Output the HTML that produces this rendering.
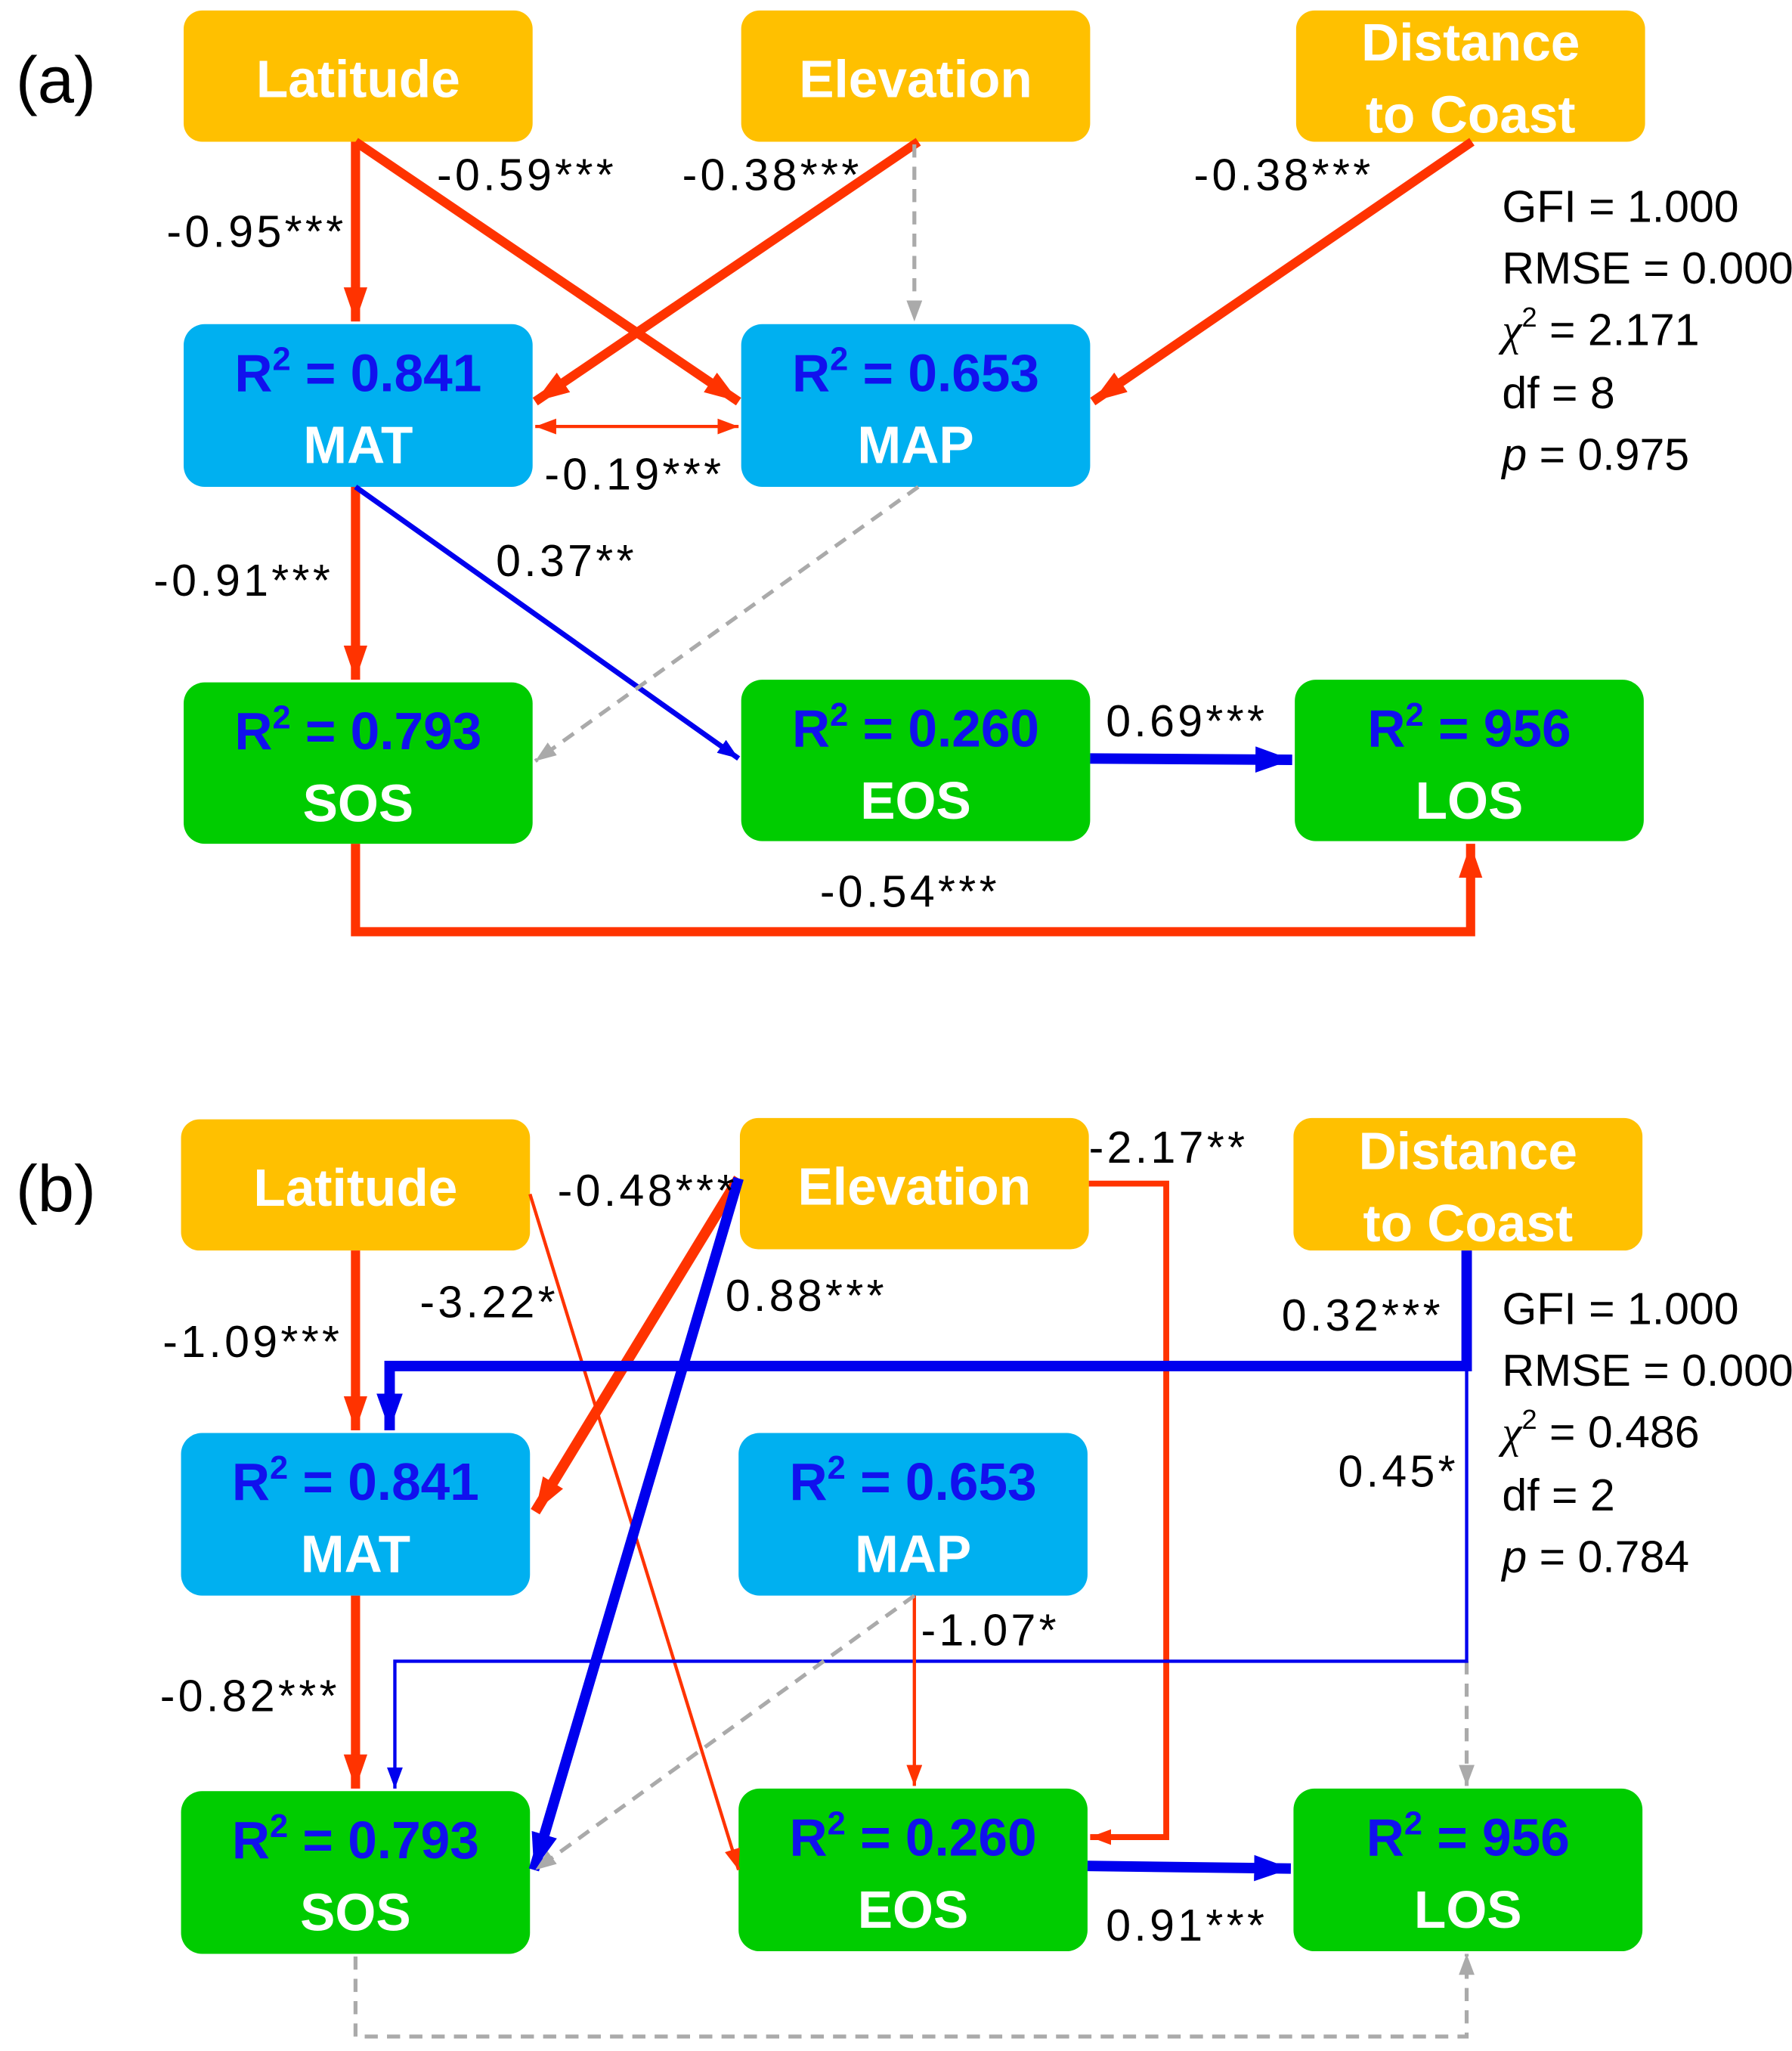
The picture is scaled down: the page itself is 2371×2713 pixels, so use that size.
<!DOCTYPE html>
<html><head><meta charset="utf-8"><style>
html,body{margin:0;padding:0;background:#fff;}
svg{display:block;}
text{font-family:"Liberation Sans",sans-serif;}
.bt{font-weight:bold;font-size:40px;fill:#fff;text-anchor:middle;}
.r2{font-weight:bold;font-size:40px;fill:#1111EE;text-anchor:middle;}
.lb{font-size:34px;fill:#000;letter-spacing:2.5px;}
.st{font-size:34px;fill:#000;}
</style></head><body>
<svg width="2371" height="2713" viewBox="0 0 1366 1563" xmlns="http://www.w3.org/2000/svg">
<defs>
<marker id="rT" markerUnits="userSpaceOnUse" markerWidth="30" markerHeight="20" refX="26" refY="9" orient="auto"><path d="M0,0 L26,9 L0,18 Z" fill="#FF3300"/></marker>
<marker id="rS" markerUnits="userSpaceOnUse" markerWidth="20" markerHeight="14" refX="16" refY="6" orient="auto"><path d="M0,0 L16,6 L0,12 Z" fill="#FF3300"/></marker>
<marker id="rSs" markerUnits="userSpaceOnUse" markerWidth="20" markerHeight="14" refX="16" refY="6" orient="auto-start-reverse"><path d="M0,0 L16,6 L0,12 Z" fill="#FF3300"/></marker>
<marker id="bT" markerUnits="userSpaceOnUse" markerWidth="32" markerHeight="22" refX="28" refY="10" orient="auto"><path d="M0,0 L28,10 L0,20 Z" fill="#0000EE"/></marker>
<marker id="bS" markerUnits="userSpaceOnUse" markerWidth="20" markerHeight="14" refX="16" refY="6" orient="auto"><path d="M0,0 L16,6 L0,12 Z" fill="#0000EE"/></marker>
<marker id="g" markerUnits="userSpaceOnUse" markerWidth="20" markerHeight="14" refX="16" refY="6" orient="auto"><path d="M0,0 L16,6 L0,12 Z" fill="#AAAAAA"/></marker>
</defs>

<!-- (a) -->
<text x="12" y="78" font-size="50">(a)</text>
<rect x="140" y="8" width="266" height="100" rx="14" fill="#FFC000"/>
<rect x="565" y="8" width="266" height="100" rx="14" fill="#FFC000"/>
<rect x="988" y="8" width="266" height="100" rx="14" fill="#FFC000"/>
<text class="bt" x="273" y="74">Latitude</text>
<text class="bt" x="698" y="74">Elevation</text>
<text class="bt" x="1121" y="46">Distance</text>
<text class="bt" x="1121" y="101">to Coast</text>

<rect x="140" y="247" width="266" height="124" rx="16" fill="#00B0F0"/>
<rect x="565" y="247" width="266" height="124" rx="16" fill="#00B0F0"/>
<text class="r2" x="273" y="298">R<tspan font-size="25" dy="-16">2</tspan><tspan dy="16"> = 0.841</tspan></text>
<text class="bt" x="273" y="353">MAT</text>
<text class="r2" x="698" y="298">R<tspan font-size="25" dy="-16">2</tspan><tspan dy="16"> = 0.653</tspan></text>
<text class="bt" x="698" y="353">MAP</text>

<rect x="140" y="520" width="266" height="123" rx="16" fill="#00CC00"/>
<rect x="565" y="518" width="266" height="123" rx="16" fill="#00CC00"/>
<rect x="987" y="518" width="266" height="123" rx="16" fill="#00CC00"/>
<text class="r2" x="273" y="571">R<tspan font-size="25" dy="-16">2</tspan><tspan dy="16"> = 0.793</tspan></text>
<text class="bt" x="273" y="626">SOS</text>
<text class="r2" x="698" y="569">R<tspan font-size="25" dy="-16">2</tspan><tspan dy="16"> = 0.260</tspan></text>
<text class="bt" x="698" y="624">EOS</text>
<text class="r2" x="1120" y="569">R<tspan font-size="25" dy="-16">2</tspan><tspan dy="16"> = 956</tspan></text>
<text class="bt" x="1120" y="624">LOS</text>

<g fill="none">
<line x1="271" y1="108" x2="271" y2="245" stroke="#FF3300" stroke-width="7" marker-end="url(#rT)"/>
<line x1="271" y1="108" x2="563" y2="306" stroke="#FF3300" stroke-width="7" marker-end="url(#rT)"/>
<line x1="700" y1="108" x2="408" y2="306" stroke="#FF3300" stroke-width="7" marker-end="url(#rT)"/>
<line x1="1122" y1="108" x2="833" y2="306" stroke="#FF3300" stroke-width="7" marker-end="url(#rT)"/>
<line x1="697" y1="110" x2="697" y2="245" stroke="#AAAAAA" stroke-width="3" stroke-dasharray="10,7" marker-end="url(#g)"/>
<line x1="408" y1="325" x2="563" y2="325" stroke="#FF3300" stroke-width="2.5" marker-start="url(#rSs)" marker-end="url(#rSs)"/>
<line x1="271" y1="371" x2="271" y2="518" stroke="#FF3300" stroke-width="7" marker-end="url(#rT)"/>
<line x1="271" y1="371" x2="563" y2="578" stroke="#0000EE" stroke-width="4" marker-end="url(#bS)"/>
<line x1="700" y1="371" x2="408" y2="580" stroke="#AAAAAA" stroke-width="3" stroke-dasharray="10,7" marker-end="url(#g)"/>
<line x1="831" y1="578" x2="985" y2="579" stroke="#0000EE" stroke-width="8" marker-end="url(#bT)"/>
<path d="M271,643 L271,710 L1121,710 L1121,643" stroke="#FF3300" stroke-width="7" marker-end="url(#rT)"/>
</g>
<text class="lb" x="127" y="188">-0.95***</text>
<text class="lb" x="333" y="145">-0.59***</text>
<text class="lb" x="520" y="145">-0.38***</text>
<text class="lb" x="910" y="145">-0.38***</text>
<text class="lb" x="415" y="373">-0.19***</text>
<text class="lb" x="117" y="454">-0.91***</text>
<text class="lb" x="378" y="439">0.37**</text>
<text class="lb" x="843" y="561">0.69***</text>
<text class="lb" x="625" y="691">-0.54***</text>
<text class="st" x="1145" y="169">GFI = 1.000</text>
<text class="st" x="1145" y="216">RMSE = 0.000</text>
<text class="st" x="1145" y="263"><tspan font-family="Liberation Serif" font-style="italic">χ</tspan><tspan font-size="21" dy="-14">2</tspan><tspan dy="14"> = 2.171</tspan></text>
<text class="st" x="1145" y="311">df = 8</text>
<text class="st" x="1145" y="358"><tspan font-style="italic">p</tspan> = 0.975</text>

<!-- (b) -->
<text x="12" y="923" font-size="50">(b)</text>
<rect x="138" y="853" width="266" height="100" rx="14" fill="#FFC000"/>
<rect x="564" y="852" width="266" height="100" rx="14" fill="#FFC000"/>
<rect x="986" y="852" width="266" height="101" rx="14" fill="#FFC000"/>
<text class="bt" x="271" y="919">Latitude</text>
<text class="bt" x="697" y="918">Elevation</text>
<text class="bt" x="1119" y="891">Distance</text>
<text class="bt" x="1119" y="946">to Coast</text>

<rect x="138" y="1092" width="266" height="124" rx="16" fill="#00B0F0"/>
<rect x="563" y="1092" width="266" height="124" rx="16" fill="#00B0F0"/>
<text class="r2" x="271" y="1143">R<tspan font-size="25" dy="-16">2</tspan><tspan dy="16"> = 0.841</tspan></text>
<text class="bt" x="271" y="1198">MAT</text>
<text class="r2" x="696" y="1143">R<tspan font-size="25" dy="-16">2</tspan><tspan dy="16"> = 0.653</tspan></text>
<text class="bt" x="696" y="1198">MAP</text>

<rect x="138" y="1365" width="266" height="124" rx="16" fill="#00CC00"/>
<rect x="563" y="1363" width="266" height="124" rx="16" fill="#00CC00"/>
<rect x="986" y="1363" width="266" height="124" rx="16" fill="#00CC00"/>
<text class="r2" x="271" y="1416">R<tspan font-size="25" dy="-16">2</tspan><tspan dy="16"> = 0.793</tspan></text>
<text class="bt" x="271" y="1471">SOS</text>
<text class="r2" x="696" y="1414">R<tspan font-size="25" dy="-16">2</tspan><tspan dy="16"> = 0.260</tspan></text>
<text class="bt" x="696" y="1469">EOS</text>
<text class="r2" x="1119" y="1414">R<tspan font-size="25" dy="-16">2</tspan><tspan dy="16"> = 956</tspan></text>
<text class="bt" x="1119" y="1469">LOS</text>

<g fill="none">
<line x1="271" y1="953" x2="271" y2="1090" stroke="#FF3300" stroke-width="7" marker-end="url(#rT)"/>
<line x1="404" y1="910" x2="563" y2="1425" stroke="#FF3300" stroke-width="2.5" marker-end="url(#rS)"/>
<line x1="563" y1="898" x2="408" y2="1152" stroke="#FF3300" stroke-width="8" marker-end="url(#rT)"/>
<line x1="563" y1="898" x2="407" y2="1425" stroke="#0000EE" stroke-width="8" marker-end="url(#bT)"/>
<path d="M830,902 L889,902 L889,1400 L831,1400" stroke="#FF3300" stroke-width="4.5" marker-end="url(#rS)"/>
<path d="M1118,953 L1118,1041 L297,1041 L297,1090" stroke="#0000EE" stroke-width="8" marker-end="url(#bT)"/>
<line x1="1118" y1="1266" x2="1118" y2="1361" stroke="#AAAAAA" stroke-width="3" stroke-dasharray="10,7" marker-end="url(#g)"/>
<path d="M1118,1041 L1118,1266 L301,1266 L301,1363" stroke="#0000EE" stroke-width="2.5" marker-end="url(#bS)"/>
<line x1="697" y1="1216" x2="697" y2="1361" stroke="#FF3300" stroke-width="2.5" marker-end="url(#rS)"/>
<line x1="697" y1="1216" x2="408" y2="1425" stroke="#AAAAAA" stroke-width="3" stroke-dasharray="10,7" marker-end="url(#g)"/>
<line x1="271" y1="1216" x2="271" y2="1363" stroke="#FF3300" stroke-width="7" marker-end="url(#rT)"/>
<line x1="829" y1="1422" x2="984" y2="1424" stroke="#0000EE" stroke-width="8" marker-end="url(#bT)"/>
<path d="M271,1491 L271,1552 L1118,1552 L1118,1489" stroke="#AAAAAA" stroke-width="3" stroke-dasharray="10,7" marker-end="url(#g)"/>
</g>
<text class="lb" x="425" y="919">-0.48***</text>
<text class="lb" x="830" y="886">-2.17**</text>
<text class="lb" x="320" y="1004">-3.22*</text>
<text class="lb" x="553" y="999">0.88***</text>
<text class="lb" x="124" y="1034">-1.09***</text>
<text class="lb" x="977" y="1014">0.32***</text>
<text class="lb" x="1020" y="1133">0.45*</text>
<text class="lb" x="702" y="1254">-1.07*</text>
<text class="lb" x="122" y="1304">-0.82***</text>
<text class="lb" x="843" y="1479">0.91***</text>
<text class="st" x="1145" y="1009">GFI = 1.000</text>
<text class="st" x="1145" y="1056">RMSE = 0.000</text>
<text class="st" x="1145" y="1103"><tspan font-family="Liberation Serif" font-style="italic">χ</tspan><tspan font-size="21" dy="-14">2</tspan><tspan dy="14"> = 0.486</tspan></text>
<text class="st" x="1145" y="1151">df = 2</text>
<text class="st" x="1145" y="1198"><tspan font-style="italic">p</tspan> = 0.784</text>
</svg>
</body></html>
